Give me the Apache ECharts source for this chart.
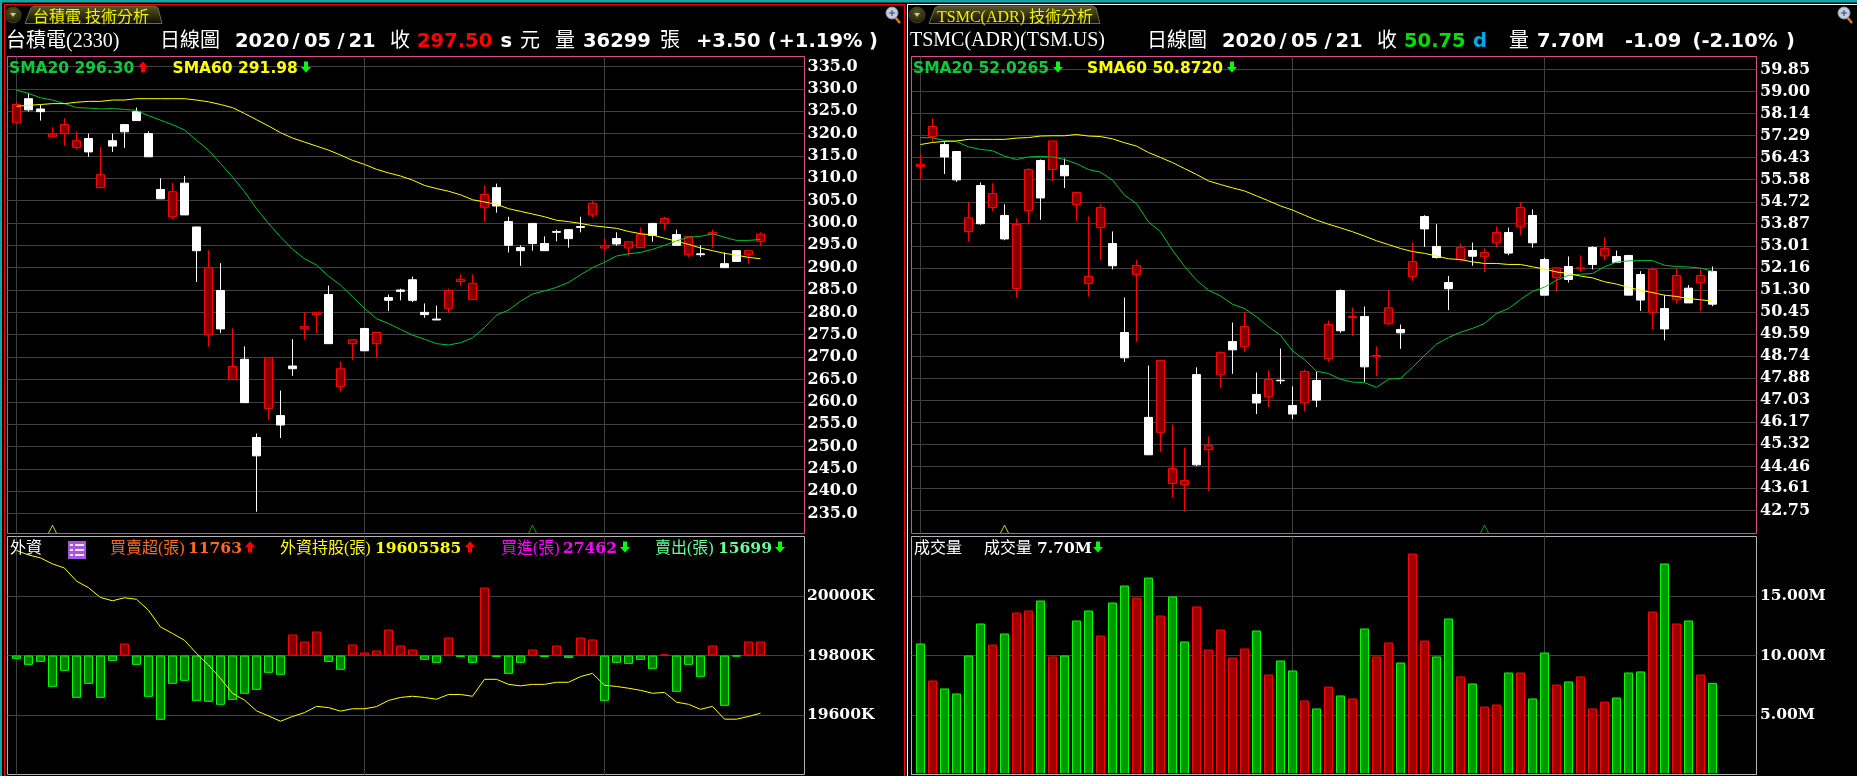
<!DOCTYPE html>
<html>
<head>
<meta charset="utf-8">
<title>技術分析</title>
<script src="https://cdn.jsdelivr.net/npm/echarts@6/dist/echarts.min.js"></script>
<style>
html, body { margin: 0; padding: 0; background: #000; overflow: hidden; }
#main { width: 1857px; height: 776px; }
</style>
</head>
<body>
<div id="main"></div>
<script>
// 台積電 daily candles: open, close, low, high
const twCandles = [
  [322.4,326.5,322.1,327.0],[327.8,325.3,324.9,329.0],[325.5,324.9,322.9,326.4],[319.3,319.9,319.3,321.4],
  [320.0,322.0,317.3,323.4],[316.9,318.4,316.4,320.5],[318.9,315.9,314.8,320.0],[307.9,310.8,307.9,317.0],
  [318.4,317.2,315.9,320.0],[322.0,320.4,316.8,322.0],[324.9,322.9,322.9,325.8],[320.0,314.8,314.8,320.5],
  [307.5,305.4,305.4,310.0],[301.4,307.0,300.9,308.9],[308.9,301.8,301.8,310.5],[299.1,293.8,286.8,299.1],
  [275.0,290.0,272.3,293.9],[284.9,276.3,275.4,291.0],[265.0,267.9,265.0,276.4],[269.5,259.8,259.8,272.4],
  [252.0,247.9,235.4,252.9],[258.5,269.9,256.0,269.9],[256.9,254.8,251.9,262.5],[268.0,267.4,265.8,274.0],
  [276.3,276.8,273.9,280.0],[279.5,280.0,275.4,280.0],[284.0,273.0,273.0,286.0],[263.4,267.4,262.4,269.0],
  [273.0,273.9,269.4,273.9],[276.4,271.4,271.4,276.4],[273.0,275.5,269.9,275.5],[283.3,282.7,280.3,284.0],
  [285.0,284.7,282.7,285.3],[287.3,282.7,282.3,288.0],[280.0,279.5,278.8,282.0],[278.5,278.3,278.3,281.5],
  [280.9,284.9,279.9,285.3],[286.9,287.4,286.0,288.5],[282.9,286.5,282.9,288.5],[303.5,306.4,300.3,308.4],
  [307.9,303.8,302.3,308.8],[300.3,295.0,293.4,301.4],[294.5,293.8,290.4,295.0],[299.9,295.4,293.8,299.9],
  [295.4,293.8,293.8,297.0],[298.1,297.9,295.9,298.5],[298.5,296.5,294.5,298.5],[299.2,299.0,297.9,301.4],
  [301.8,304.4,301.3,305.0],[294.4,294.9,293.8,296.5],[296.5,295.3,294.9,297.9],[294.4,295.8,292.5,295.9],
  [294.5,297.4,294.5,299.0],[299.9,297.2,295.8,299.9],[299.9,301.0,298.4,301.4],[297.4,295.0,295.0,298.5],
  [292.9,297.0,292.4,297.0],[293.1,292.9,292.4,295.0],[297.4,297.9,294.5,298.5],[290.9,290.0,290.0,293.4],
  [293.8,291.4,291.4,293.8],[292.9,293.8,290.9,293.8],[295.9,297.5,295.0,297.9]
]
const twSma20 = [329.7,329.0,328.0,327.5,326.7,325.8,325.7,325.5,325.6,325.4,325.2,324.0,323.0,322.0,320.8,318.5,316.3,313.3,310.3,307.0,303.2,299.9,296.9,294.1,292.0,290.6,288.1,286.1,283.5,280.9,278.6,277.5,276.2,274.9,274.0,273.0,272.7,273.2,274.3,276.6,279.4,280.5,282.5,284.1,284.8,285.6,286.7,288.4,290.0,291.2,292.6,293.1,293.4,294.1,295.0,296.0,296.8,297.0,297.6,296.8,296.1,296.1,296.3]
const twSma60 = [326.1,326.3,326.5,326.7,326.7,327.0,327.2,327.2,327.5,327.5,327.8,327.8,327.8,327.8,327.8,327.5,327.1,326.5,325.8,324.5,323.1,321.7,320.2,319.0,318.1,317.2,316.3,315.2,314.0,313.1,312.0,311.2,310.5,309.6,308.4,307.7,307.1,306.3,305.2,304.7,304.2,303.2,302.6,302.0,301.4,300.6,300.3,299.9,299.4,299.1,298.8,298.1,297.6,297.3,296.6,295.9,295.2,294.4,293.8,293.2,292.8,292.3,292.0]
// 外資買賣超(張)
const foreignNet = [-2800,-7840,-5320,-26320,-12880,-35560,-23800,-35560,-4480,10080,-7840,-34720,-54040,-23800,-21280,-38080,-38920,-41440,-37240,-32200,-28840,-14560,-16240,17640,11760,20160,-5320,-12040,9240,2520,4200,21840,8400,5040,-3640,-6160,15120,-1120,-6160,57120,-1120,-15400,-6160,5040,-1120,8400,-1960,15120,13440,-38080,-6160,-7000,-3640,-11200,840,-30520,-7840,-17920,8400,-42280,-840,11760,11763]
// 外資持股(K張)
const foreignHold = [20153,20138,20128,20108,20094,20050,20028,19995,19984,19994,19989,19952,19896,19874,19851,19807,19768,19723,19673,19650,19614,19597,19579,19595,19608,19629,19625,19613,19621,19621,19628,19649,19659,19663,19659,19653,19669,19669,19663,19720,19720,19703,19698,19703,19703,19710,19710,19729,19740,19700,19696,19690,19683,19673,19676,19643,19636,19619,19629,19586,19586,19595,19606]

// TSMC ADR daily candles: open, close, low, high
const adrCandles = [
  [56.09,56.17,55.60,56.55],[57.25,57.64,57.05,57.96],[56.94,56.46,55.80,57.05],[56.67,55.57,55.49,56.67],
  [53.57,54.10,53.17,54.71],[55.35,53.87,53.83,55.47],[54.50,55.04,54.36,55.44],[54.19,53.28,53.23,54.62],
  [51.36,53.84,51.01,54.07],[54.38,55.97,53.84,56.02],[56.32,54.87,54.02,56.36],[55.97,57.08,55.52,57.08],
  [56.13,55.73,55.26,56.40],[54.62,55.08,53.98,55.08],[51.55,51.82,51.04,54.15],[53.72,54.50,52.48,54.62],
  [53.10,52.24,52.10,53.57],[49.65,48.67,48.51,51.01],[51.90,52.25,49.29,52.48],[46.36,44.91,44.91,48.37],
  [45.78,48.57,45.02,48.57],[43.80,44.38,43.24,46.08],[43.76,43.91,42.71,45.19],[48.02,44.52,44.47,48.30],
  [45.11,45.27,43.51,45.62],[48.01,48.88,47.52,48.92],[49.30,48.98,48.05,50.04],[49.10,49.88,48.90,50.45],
  [47.25,46.92,46.49,48.10],[47.16,47.83,46.76,48.19],[47.80,47.78,47.65,49.03],[46.82,46.49,46.29,47.56],
  [46.92,48.14,46.60,48.22],[47.79,47.03,46.76,48.14],[48.63,49.96,48.51,50.12],[51.28,49.72,49.64,51.32],
  [50.23,50.27,49.52,50.62],[50.27,48.32,47.74,50.66],[48.73,48.76,47.97,49.11],[49.99,50.61,49.95,51.30],
  [49.77,49.64,49.02,49.96],[51.82,52.40,51.66,53.14],[54.15,53.67,52.97,54.20],[52.99,52.56,52.52,53.85],
  [51.59,51.35,50.52,51.84],[52.48,52.95,52.39,53.10],[52.83,52.61,52.24,53.14],[52.59,52.75,52.00,52.91],
  [53.13,53.53,52.97,53.76],[53.53,52.73,52.65,53.72],[53.75,54.50,53.42,54.71],[54.19,53.13,52.94,54.42],
  [52.48,51.10,51.10,52.55],[51.78,52.16,51.25,52.16],[52.21,51.71,51.59,52.60],[52.12,52.16,52.00,52.64],
  [52.95,52.29,52.10,52.99],[52.62,52.91,52.46,53.34],[52.60,52.37,52.37,52.83],[52.64,51.10,51.10,52.64],
  [51.90,50.91,50.49,52.03],[50.43,52.10,49.78,52.17],[50.58,49.79,49.35,51.10],[50.92,51.86,50.78,52.17],
  [51.37,50.80,50.80,51.49],[51.58,51.86,50.48,52.10],[52.02,50.75,50.67,52.21]
]
const adrSma20 = [57.21,57.20,57.10,57.05,56.85,56.75,56.70,56.49,56.36,56.46,56.48,56.46,56.36,56.20,55.97,55.87,55.56,54.98,54.65,53.94,53.56,52.84,52.22,51.68,51.29,51.07,50.75,50.58,50.26,49.87,49.55,48.94,48.60,48.15,48.06,47.84,47.73,47.71,47.52,47.84,47.87,48.30,48.76,49.20,49.46,49.66,49.81,50.00,50.39,50.58,50.93,51.25,51.41,51.68,51.87,51.91,51.94,52.20,52.38,52.43,52.44,52.44,52.26,52.21,52.19,52.15,52.03]
const adrSma60 = [56.94,57.02,57.06,57.08,57.14,57.14,57.14,57.14,57.19,57.21,57.27,57.28,57.28,57.33,57.27,57.25,57.16,57.01,56.88,56.63,56.44,56.24,56.01,55.78,55.53,55.39,55.26,55.14,54.95,54.76,54.56,54.40,54.20,54.01,53.85,53.71,53.56,53.39,53.21,53.06,52.91,52.79,52.72,52.62,52.51,52.48,52.39,52.33,52.33,52.29,52.29,52.20,52.11,52.00,51.94,51.84,51.77,51.62,51.53,51.40,51.29,51.20,51.10,51.05,50.97,50.92,50.87]
// 成交量(M) and whether the bar is drawn red (1) or green (0)
const adrVolume = [11.01,7.90,7.23,6.81,10.00,12.69,10.92,11.85,13.61,13.78,14.62,9.92,10.00,12.94,13.78,11.68,14.45,15.88,14.87,16.55,13.36,14.96,11.18,14.12,10.50,12.18,9.83,10.59,12.10,8.40,9.58,8.74,6.22,5.55,7.39,6.64,6.39,12.27,9.92,11.09,9.41,18.57,11.26,9.92,13.11,8.24,7.65,5.71,5.88,8.57,8.57,6.39,10.25,7.56,7.82,8.24,5.55,6.13,6.47,8.57,8.66,13.70,17.73,12.69,12.94,8.40,7.70]
const adrVolumeRed = [0,1,0,0,0,0,1,0,1,1,0,1,0,0,0,1,0,0,1,0,1,0,0,1,1,1,1,1,0,1,0,0,1,0,1,0,1,0,1,1,0,1,1,0,0,1,0,1,1,0,1,0,0,1,0,1,1,1,0,0,0,1,0,1,0,1,0]

// tick labels
const twPriceTicks = [335,330,325,320,315,310,305,300,295,290,285,280,275,270,265,260,255,250,245,240,235]
const adrPriceTicks = [59.85,59.00,58.14,57.29,56.43,55.58,54.72,53.87,53.01,52.16,51.30,50.45,49.59,48.74,47.88,47.03,46.17,45.32,44.46,43.61,42.75]
const holdTicks = [19600,19800,20000]
const volumeTicks = [5,10,15]
// month separators, by candle index
const twMonthLines = [0,29,49]
const adrMonthLines = [0,31,52]
// little ^ signals at the foot of the price panes: candle index, price
const twSignals = [[3,231.5,'#ffff00'],[43,231.5,'#00c030']]
const adrSignals = [[7,42.03,'#ffff00'],[47,42.03,'#00c030']]

const GRID_LINE = '#404040'
const PINK = '#d8508c'
const FRAME = '#b4b4b4'
const SANS_BOLD = 'bold 19.5px "DejaVu Sans"'
const LEGEND_BOLD = 'bold 15.5px "DejaVu Sans"'
const SERIF_BOLD = 'bold 15.5px "DejaVu Serif"'
const CJK = '20px "Liberation Serif","Noto Sans CJK TC"'
const CJK_SMALL = '16px "Liberation Serif","Noto Sans CJK TC"'

function xAxisFor (gridIndex, min, max, lines) {
  return {
    type: 'value',
    gridIndex: gridIndex,
    min: min,
    max: max,
    axisLine: {show: false},
    axisLabel: {show: false},
    axisTick: {show: false, customValues: lines},
    splitLine: {show: true, lineStyle: {color: GRID_LINE, width: 1}}
  }
}

function yAxisFor (gridIndex, min, max, ticks, fmt, margin, size) {
  return {
    type: 'value',
    gridIndex: gridIndex,
    position: 'right',
    min: min,
    max: max,
    axisLine: {show: false},
    axisTick: {show: false, customValues: ticks},
    axisLabel: {
      customValues: ticks,
      formatter: fmt,
      margin: margin,
      padding: [7, 0, 0, 0],
      color: '#fff',
      fontFamily: 'DejaVu Serif',
      fontWeight: 'bold',
      fontSize: size
    },
    splitLine: {show: true, lineStyle: {color: GRID_LINE, width: 1}}
  }
}

function candleSeries (axisIndex, yIndex, rows) {
  return {
    type: 'candlestick',
    xAxisIndex: axisIndex,
    yAxisIndex: yIndex,
    barWidth: 8,
    encode: {x: 0, y: [1, 2, 3, 4]},
    itemStyle: {
      color: '#800000',
      color0: '#ffffff',
      borderColor: '#ff0000',
      borderColor0: '#ffffff',
      borderWidth: 1
    },
    data: rows.map((r, i) => [i, r[0], r[1], r[2], r[3]])
  }
}

function lineSeries (axisIndex, yIndex, values, color) {
  return {
    type: 'line',
    xAxisIndex: axisIndex,
    yAxisIndex: yIndex,
    symbol: 'none',
    lineStyle: {color: color, width: 1},
    data: values.map((v, i) => [i, v])
  }
}

function signalSeries (axisIndex, yIndex, rows) {
  return {
    type: 'scatter',
    xAxisIndex: axisIndex,
    yAxisIndex: yIndex,
    symbol: 'path://M0 10L5 0L10 10',
    symbolSize: [8, 8],
    silent: true,
    data: rows.map(r => ({
      value: [r[0], r[1]],
      itemStyle: {color: 'transparent', borderColor: r[2], borderWidth: 1}
    }))
  }
}

function barSeries (axisIndex, yIndex, values, isRed, redFill, greenFill) {
  return {
    type: 'bar',
    xAxisIndex: axisIndex,
    yAxisIndex: yIndex,
    barWidth: 9,
    data: values.map((v, i) => ({
      value: [i, v],
      itemStyle: {
        color: isRed(i) ? redFill : greenFill,
        borderColor: isRed(i) ? '#ff0000' : '#00ff00',
        borderWidth: 1
      }
    }))
  }
}

// header and legend text
function txt (x, y, text, fill, font) {
  return {
    type: 'text',
    z: 20,
    silent: true,
    style: {x: x, y: y, text: text, fill: fill, font: font, verticalAlign: 'middle'}
  }
}

function arrow (x, y, up, color) {
  let s = up ? -1 : 1
  return {
    type: 'polygon',
    z: 20,
    silent: true,
    shape: {points: [[x - 2, y - 5.5 * s], [x + 2, y - 5.5 * s], [x + 2, y], [x + 5, y], [x, y + 5.5 * s], [x - 5, y], [x - 2, y]]},
    style: {fill: color}
  }
}

function rect (x, y, w, h, fill) {
  return {type: 'rect', z: 15, silent: true, shape: {x: x, y: y, width: w, height: h}, style: {fill: fill}}
}

function tab (x1, x2, label, labelX) {
  return [
    {
      type: 'circle',
      z: 16,
      silent: true,
      shape: {cx: x1 - 12, cy: 15, r: 8},
      style: {
        fill: {type: 'radial', x: 0.5, y: 0.3, r: 0.7, colorStops: [{offset: 0, color: '#5a5518'}, {offset: 1, color: '#1e1c06'}]},
        stroke: '#3a3a3a'
      }
    },
    {type: 'polygon', z: 17, silent: true, shape: {points: [[x1 - 15, 13], [x1 - 9, 13], [x1 - 12, 17]]}, style: {fill: '#c8c8b0'}},
    {
      type: 'polygon',
      z: 16,
      silent: true,
      shape: {points: [[x1, 23.5], [x1 + 6, 8], [x1 + 9, 6], [x2 - 7, 6], [x2 - 4, 8], [x2, 23.5]]},
      style: {
        fill: {type: 'linear', x: 0, y: 0, x2: 0, y2: 1, colorStops: [{offset: 0, color: '#5e5a22'}, {offset: 1, color: '#0c0c02'}]},
        stroke: '#6a6a60'
      }
    },
    txt(labelX, 18, label, '#f0f000', CJK_SMALL)
  ]
}

function magnifier (x) {
  return [
    {type: 'line', z: 16, silent: true, shape: {x1: x + 3, y1: 17, x2: x + 8, y2: 23}, style: {stroke: '#d08030', lineWidth: 2.5}},
    {type: 'circle', z: 17, silent: true, shape: {cx: x, cy: 13, r: 6}, style: {fill: '#c4cede', stroke: '#8c98b0'}},
    {type: 'line', z: 18, silent: true, shape: {x1: x - 3, y1: 13, x2: x + 3, y2: 13}, style: {stroke: '#34426a'}},
    {type: 'line', z: 18, silent: true, shape: {x1: x, y1: 10, x2: x, y2: 16}, style: {stroke: '#34426a'}}
  ]
}

function menuIcon (x, y) {
  let els = [rect(x, y, 18, 18, '#a855e0')]
  for (let i = 0; i < 3; i++) {
    els.push(rect(x + 2, y + 3 + i * 5, 3, 2, '#e8e8f0'))
    els.push(rect(x + 7, y + 3 + i * 5, 9, 2, '#e8e8f0'))
  }
  els.forEach(e => { e.z = 18 })
  return els
}

const chrome = [
  rect(0, 0, 1857, 2.5, '#16a5a5'),
  rect(0, 0, 2, 776, '#16a5a5'),
  rect(4, 4, 901, 1, '#ff0000'),
  rect(4, 4, 1, 772, '#ff0000'),
  rect(904, 4, 1, 772, '#ff0000'),
  rect(907, 4, 950, 1, '#ffffff'),
  rect(907, 4, 1, 772, '#ffffff'),
  // bars stop just above the frame of the volume pane
  rect(912, 773, 844, 1, '#000000'),
  rect(911, 774, 846, 1, FRAME)
]

const texts = [
  ...tab(25, 162, '台積電 技術分析', 33),
  ...magnifier(892),
  txt(6, 42, '台積電(2330)', '#fff', CJK),
  txt(160, 42, '日線圖', '#fff', CJK),
  txt(235, 42, '2020', '#fff', SANS_BOLD),
  txt(292.5, 42, '/', '#fff', SANS_BOLD),
  txt(304, 42, '05', '#fff', SANS_BOLD),
  txt(337.5, 42, '/', '#fff', SANS_BOLD),
  txt(348.5, 42, '21', '#fff', SANS_BOLD),
  txt(390, 42, '收', '#fff', CJK),
  txt(417, 42, '297.50', '#ff0000', SANS_BOLD),
  txt(500.5, 42, 's', '#fff', SANS_BOLD),
  txt(520, 42, '元', '#fff', CJK),
  txt(555, 42, '量', '#fff', CJK),
  txt(583, 42, '36299', '#fff', SANS_BOLD),
  txt(660, 42, '張', '#fff', CJK),
  txt(696, 42, '+3.50', '#fff', SANS_BOLD),
  txt(768, 42, '(', '#fff', SANS_BOLD),
  txt(778.5, 42, '+1.19', '#fff', SANS_BOLD),
  txt(843, 42, '%', '#fff', SANS_BOLD),
  txt(869, 42, ')', '#fff', SANS_BOLD),
  txt(9, 68.5, 'SMA20 296.30', '#10c83c', LEGEND_BOLD),
  arrow(143, 67, true, '#ff0000'),
  txt(172.5, 68.5, 'SMA60 291.98', '#ffff00', LEGEND_BOLD),
  arrow(306, 67, false, '#00ff00'),
  txt(10, 548.5, '外資', '#fff', CJK_SMALL),
  ...menuIcon(68, 541),
  txt(110, 548.5, '買賣超(張)', '#ff6a20', CJK_SMALL),
  txt(188, 548.5, '11763', '#ff6a20', SERIF_BOLD),
  arrow(250, 547, true, '#ff0000'),
  txt(280, 548.5, '外資持股(張)', '#ffff00', CJK_SMALL),
  txt(375, 548.5, '19605585', '#ffff00', SERIF_BOLD),
  arrow(470, 547, true, '#ff0000'),
  txt(501, 548.5, '買進(張)', '#ff00ff', CJK_SMALL),
  txt(563, 548.5, '27462', '#ff00ff', SERIF_BOLD),
  arrow(625, 547, false, '#00ff00'),
  txt(655, 548.5, '賣出(張)', '#66ff99', CJK_SMALL),
  txt(718, 548.5, '15699', '#66ff99', SERIF_BOLD),
  arrow(780, 547, false, '#00ff00'),

  ...tab(929, 1100, 'TSMC(ADR) 技術分析', 937),
  ...magnifier(1844),
  txt(910, 41, 'TSMC(ADR)(TSM.US)', '#fff', CJK),
  txt(1147, 42, '日線圖', '#fff', CJK),
  txt(1222, 42, '2020', '#fff', SANS_BOLD),
  txt(1279.5, 42, '/', '#fff', SANS_BOLD),
  txt(1291, 42, '05', '#fff', SANS_BOLD),
  txt(1324.5, 42, '/', '#fff', SANS_BOLD),
  txt(1335.5, 42, '21', '#fff', SANS_BOLD),
  txt(1377, 42, '收', '#fff', CJK),
  txt(1404, 42, '50.75', '#00e000', SANS_BOLD),
  txt(1473, 42, 'd', '#00a8f0', SANS_BOLD),
  txt(1509, 42, '量', '#fff', CJK),
  txt(1537, 42, '7.70M', '#fff', SANS_BOLD),
  txt(1625, 42, '-1.09', '#fff', SANS_BOLD),
  txt(1692.5, 42, '(', '#fff', SANS_BOLD),
  txt(1701.5, 42, '-2.10', '#fff', SANS_BOLD),
  txt(1758, 42, '%', '#fff', SANS_BOLD),
  txt(1786, 42, ')', '#fff', SANS_BOLD),
  txt(913, 68.5, 'SMA20 52.0265', '#10c83c', LEGEND_BOLD),
  arrow(1058, 67, false, '#00ff00'),
  txt(1087, 68.5, 'SMA60 50.8720', '#ffff00', LEGEND_BOLD),
  arrow(1232, 67, false, '#00ff00'),
  txt(914, 548.5, '成交量', '#fff', CJK_SMALL),
  txt(984, 548.5, '成交量', '#fff', CJK_SMALL),
  txt(1037, 548.5, '7.70M', '#fff', SERIF_BOLD),
  arrow(1098, 547, false, '#00ff00')
]

let myChart = echarts.init(document.getElementById('main'), null, {renderer: 'canvas'})
myChart.setOption({
  backgroundColor: '#000',
  animation: false,
  tooltip: {show: false},
  grid: [
    {left: 7.5, top: 56.5, width: 797, height: 477, show: true, borderColor: PINK, borderWidth: 1, backgroundColor: 'transparent'},
    {left: 7.5, top: 536.5, width: 797, height: 238, show: true, borderColor: FRAME, borderWidth: 1, backgroundColor: 'transparent'},
    {left: 911.5, top: 56.5, width: 845, height: 477, show: true, borderColor: PINK, borderWidth: 1, backgroundColor: 'transparent'},
    {left: 911.5, top: 536.5, width: 845, height: 238, show: true, borderColor: FRAME, borderWidth: 1, backgroundColor: 'transparent'}
  ],
  xAxis: [
    xAxisFor(0, -0.75, 65.667, twMonthLines),
    xAxisFor(1, -0.75, 65.667, twMonthLines),
    xAxisFor(2, -0.75, 69.667, adrMonthLines),
    xAxisFor(3, -0.75, 69.667, adrMonthLines)
  ],
  yAxis: [
    yAxisFor(0, 230.53, 337.24, twPriceTicks, v => v.toFixed(1), 3, 16),
    yAxisFor(1, 19400, 20200, holdTicks, v => v + 'K', 2.5, 15.5),
    {type: 'value', gridIndex: 1, min: -100000, max: 100000, show: false},
    yAxisFor(2, 41.858, 60.354, adrPriceTicks, v => v.toFixed(2), 3.5, 16),
    yAxisFor(3, 0, 20, volumeTicks, v => v.toFixed(2) + 'M', 3.5, 15.5)
  ],
  series: [
    candleSeries(0, 0, twCandles),
    lineSeries(0, 0, twSma20, '#00c030'),
    lineSeries(0, 0, twSma60, '#ffff00'),
    signalSeries(0, 0, twSignals),
    barSeries(1, 2, foreignNet, i => foreignNet[i] > 0, '#800000', '#008000'),
    lineSeries(1, 1, foreignHold, '#ffff00'),
    candleSeries(2, 3, adrCandles),
    lineSeries(2, 3, adrSma20, '#00c030'),
    lineSeries(2, 3, adrSma60, '#ffff00'),
    signalSeries(2, 3, adrSignals),
    barSeries(3, 4, adrVolume, i => adrVolumeRed[i] === 1, '#9c0000', '#009800')
  ],
  graphic: {elements: chrome.concat(texts)}
})
window.onresize = myChart.resize
</script>
</body>
</html>
